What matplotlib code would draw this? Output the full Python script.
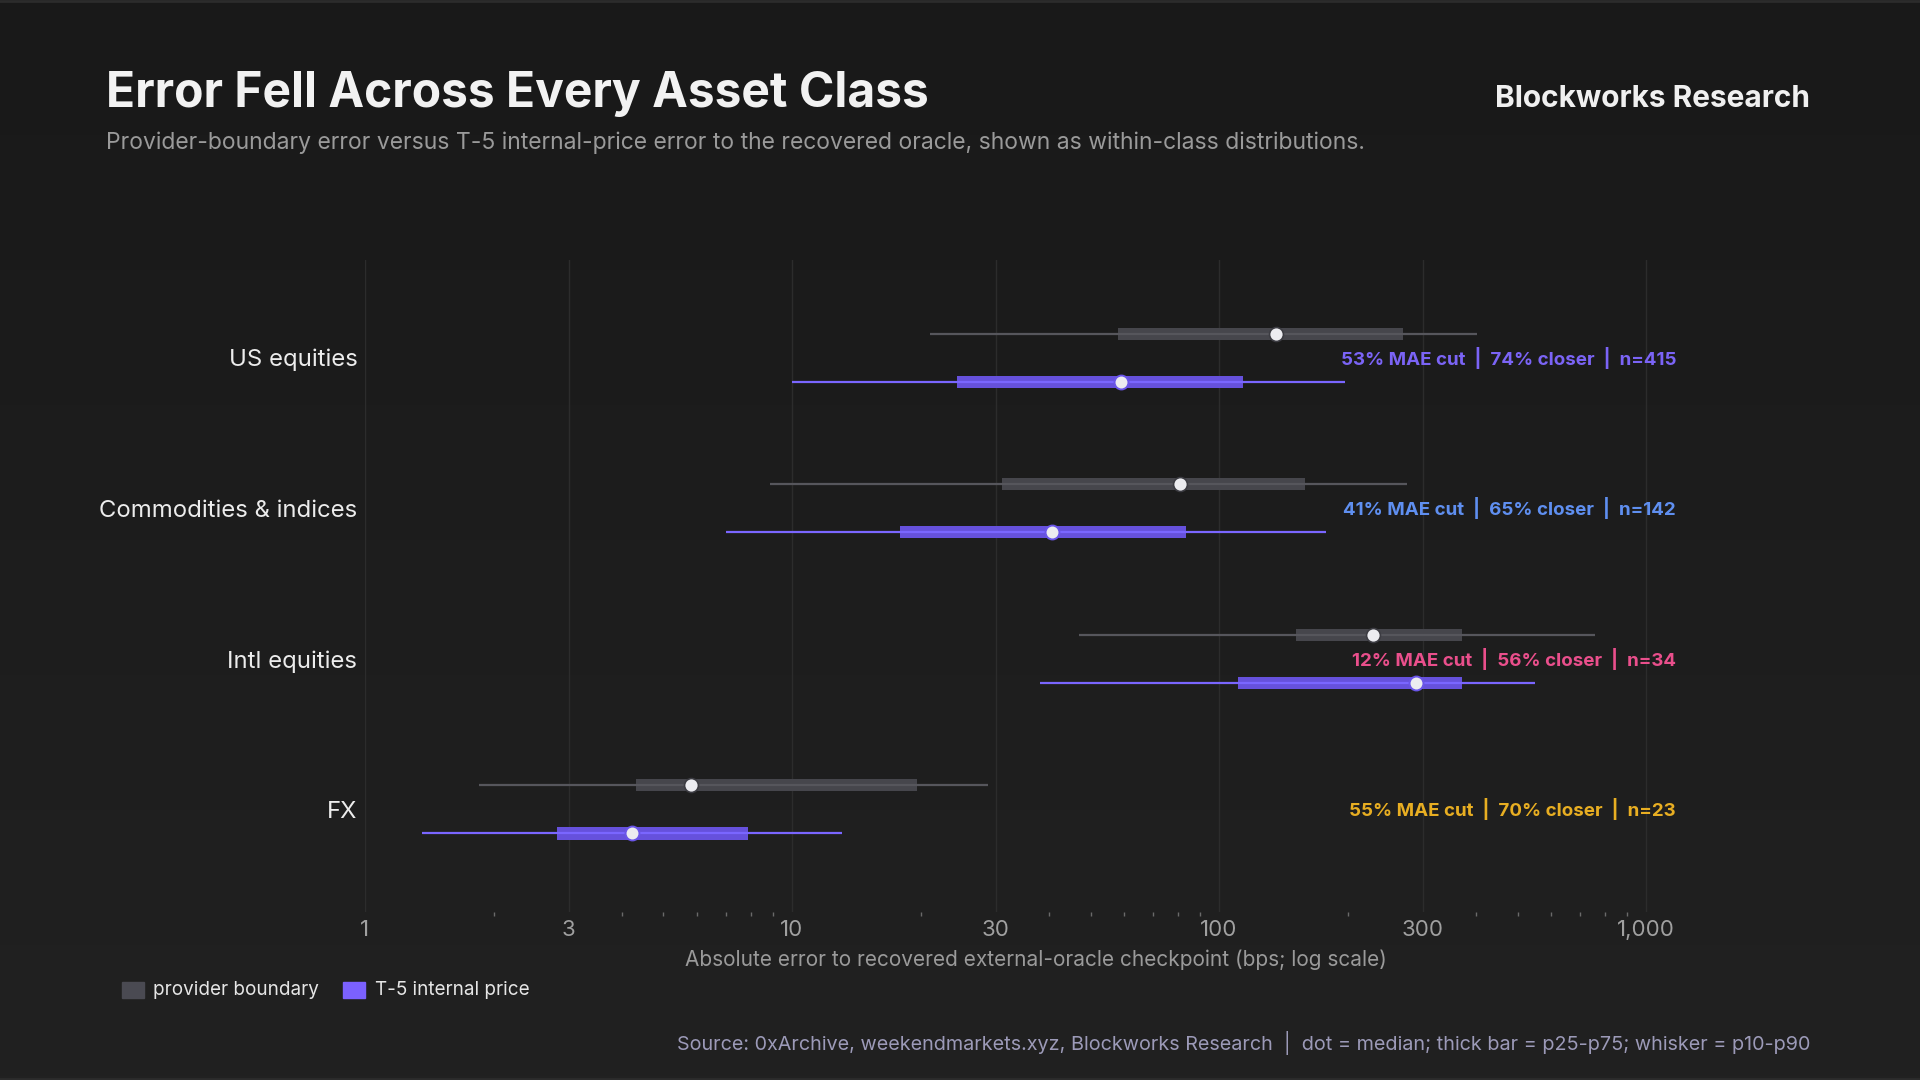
import numpy as np
import matplotlib
matplotlib.use('Agg')
from matplotlib import pyplot as plt
from matplotlib.colors import LinearSegmentedColormap
from matplotlib.patches import Rectangle
from matplotlib.lines import Line2D
from matplotlib.transforms import blended_transform_factory

plt.rcParams['font.family'] = ['Inter', 'DejaVu Sans']

categories = ['US equities', 'Commodities & indices', 'Intl equities', 'FX']

# provider boundary error percentiles (bps)
prov_p10 = [21, 8.9, 47, 1.85]
prov_p25 = [58, 31, 151, 4.3]
prov_p50 = [136, 81, 229, 5.8]
prov_p75 = [269, 159, 371, 19.6]
prov_p90 = [402, 276, 757, 28.8]

# T-5 internal price error percentiles (bps)
t5_p10 = [10, 7.0, 38, 1.36]
t5_p25 = [24.3, 17.9, 111, 2.82]
t5_p50 = [59, 40.6, 289, 4.22]
t5_p75 = [114, 83.5, 371, 7.9]
t5_p90 = [197, 178, 548, 13.1]

mae_cut = [53, 41, 12, 55]
closer = [74, 65, 56, 70]
n_obs = [415, 142, 34, 23]
note_colors = ['#7b64f6', '#5f8ff0', '#ea4f8c', '#e8ae22']

major_ticks = [1, 3, 10, 30, 100, 300, 1000]
major_labels = ['1', '3', '10', '30', '100', '300', '1,000']

PROV_BOX = '#46464c'
PROV_LINE = '#56565c'
T5_BOX = '#6651dc'
T5_LINE = '#7a66ff'

fig = plt.figure(figsize=(19.2, 10.8), dpi=100)
fig.patch.set_facecolor('#1c1c1c')

# background gradient
bg = fig.add_axes([0, 0, 1, 1], zorder=-10)
grad = np.linspace(0, 1, 256).reshape(-1, 1)
bg.imshow(grad, aspect='auto', extent=[0, 1, 0, 1], origin='upper',
          cmap=LinearSegmentedColormap.from_list('bg', ['#191919', '#212121']))
bg.axis('off')

ax = fig.add_axes([0.1901, 0.1556, 0.6849, 0.604])
ax.set_facecolor('none')
ax.set_xscale('log')
ax.set_xlim(1, 1200)
ax.set_ylim(3.681, -0.651)

y = np.arange(len(categories))
off = 0.16
bh = 0.08

# provider boundary
ax.barh(y - off, np.subtract(prov_p75, prov_p25), left=prov_p25, height=bh,
        color=PROV_BOX, zorder=2)
ax.hlines(y - off, prov_p10, prov_p90, color=PROV_LINE, lw=1.6, zorder=3)
ax.plot(prov_p50, y - off, 'o', ms=10, mfc='#ececf0', mec='#3c3c42', mew=1.2,
        zorder=4)

# T-5 internal price
ax.barh(y + off, np.subtract(t5_p75, t5_p25), left=t5_p25, height=bh,
        color=T5_BOX, zorder=2)
ax.hlines(y + off, t5_p10, t5_p90, color=T5_LINE, lw=1.6, zorder=3)
ax.plot(t5_p50, y + off, 'o', ms=10, mfc='#ececf0', mec='#6a55e8', mew=1.4,
        zorder=4)

# per-class notes
tr = blended_transform_factory(ax.transAxes, ax.transData)
for i in range(len(categories)):
    ax.text(0.997, y[i],
            f'{mae_cut[i]}% MAE cut  |  {closer[i]}% closer  |  n={n_obs[i]}',
            transform=tr, ha='right', va='center', fontsize=13.5,
            fontweight='bold', color=note_colors[i])

for s in ax.spines.values():
    s.set_visible(False)

ax.set_yticks(y)
ax.set_yticklabels(categories)
ax.tick_params(axis='y', length=0, pad=5.5, labelsize=17.2, labelcolor='#ececec')

ax.set_xticks(major_ticks)
ax.set_xticklabels(major_labels)
minor = [m * d for d in (1, 10, 100) for m in (2, 4, 5, 6, 7, 8, 9)]
ax.set_xticks(minor, minor=True)
ax.set_xticklabels([], minor=True)
ax.tick_params(axis='x', which='major', length=0, pad=5.5, labelsize=16,
               labelcolor='#a0a0a0')
ax.tick_params(axis='x', which='minor', length=3, width=1, color='#6a6a6a')
ax.grid(axis='x', which='major', color='#2c2c2c', lw=1)
ax.grid(axis='y', visible=False)
ax.set_axisbelow(True)

fig.text(0.5396, 0.1115,
         'Absolute error to recovered external-oracle checkpoint (bps; log scale)',
         ha='center', va='center', fontsize=15, color='#9a9a9a')

# header
fig.text(0.0552, 0.9009, 'Error Fell Across Every Asset Class', va='baseline',
         fontsize=34.5, fontweight='bold', color='#f2f2f2')
fig.text(0.9427, 0.9009, 'Blockworks Research', ha='right', va='baseline',
         fontsize=21.5, fontweight='bold', color='#f0f0f0')
fig.text(0.0552, 0.862,
         'Provider-boundary error versus T-5 internal-price error to the recovered oracle, '
         'shown as within-class distributions.',
         va='baseline', fontsize=16.5, color='#9a9a9a')

# legend
fig.add_artist(Rectangle((0.0635, 0.0759), 0.01146, 0.0148,
                         transform=fig.transFigure, color='#4a4a52'))
fig.text(0.0797, 0.0833, 'provider boundary', va='center', fontsize=13.6,
         color='#e6e6e6')
fig.add_artist(Rectangle((0.1786, 0.0759), 0.01146, 0.0148,
                         transform=fig.transFigure, color='#7b61ff'))
fig.text(0.1953, 0.0833, 'T-5 internal price', va='center', fontsize=13.6,
         color='#e6e6e6')

# source
fig.text(0.9427, 0.0343,
         'Source: 0xArchive, weekendmarkets.xyz, Blockworks Research  |  '
         'dot = median; thick bar = p25-p75; whisker = p10-p90',
         ha='right', va='center', fontsize=14.25, color='#9c9ab8')

# thin frame lines top and bottom
fig.add_artist(Line2D([0, 1], [0.9988, 0.9988], transform=fig.transFigure,
                      color='#2c2c2c', lw=2))
fig.add_artist(Line2D([0, 1], [0.0012, 0.0012], transform=fig.transFigure,
                      color='#2c2c2c', lw=2))

fig.savefig('out.png', dpi=100, facecolor=fig.get_facecolor())
